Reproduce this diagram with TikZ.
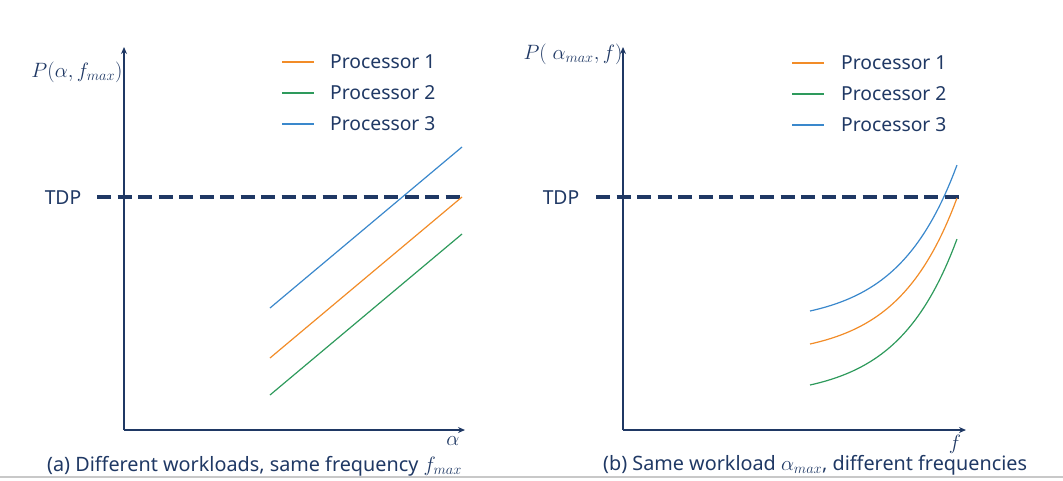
\documentclass[tikz,border=0pt]{standalone}
\usepackage{fontspec}
\setmainfont{Noto Sans}
\usetikzlibrary{arrows.meta}
\definecolor{navy}{HTML}{1F3864}
\definecolor{txt}{HTML}{1F3864}
\definecolor{porange}{HTML}{F28C28}
\definecolor{pgreen}{HTML}{2E9A5C}
\definecolor{pblue}{HTML}{3A88CC}
\definecolor{rule}{HTML}{C8C8C8}
\tikzset{
  axis/.style={draw=navy, line width=1.6pt, -{Stealth[length=7pt,width=6pt]}},
  tdp/.style={draw=navy, line width=3.2pt, dash pattern=on 14pt off 6.5pt},
  curve/.style={line width=1.2pt},
  lbl/.style={text=txt, font=\fontsize{19.3}{23}\selectfont, inner sep=0pt},
  captext/.style={text=txt, font=\fontsize{19.8}{24}\selectfont, inner sep=0pt, anchor=west},
  mlbl/.style={text=txt, font=\fontsize{22}{26}\selectfont, inner sep=0pt},
  leg/.style={lbl, anchor=west},
}
\begin{document}
\begin{tikzpicture}[x=1pt,y=-1pt]
\useasboundingbox (0,0) rectangle (1063,480);
% bottom rule
\draw[rule, line width=1.5pt] (0,477) -- (1063,477);

% ---------- left plot ----------
\coordinate (LO) at (124,430);
\coordinate (LY) at (124,47);
\coordinate (LX) at (465,430);
\draw[axis] (LO) -- (LY);
\draw[axis] (LO) -- (LX);
\node[mlbl] (lylab) at (77,72) {$P(\alpha,f_{max})$};
\node[mlbl] (lxlab) at (453,441) {$\alpha$};
\node[lbl] (ltdp) at (63,198) {TDP};
\coordinate (LT1) at (97,197);
\coordinate (LT2) at (462,197);
\draw[tdp] (LT1) -- (LT2);
\draw[curve, pblue] (270,308) -- (462,147);
\draw[curve, porange] (270,358) -- (462,197);
\draw[curve, pgreen] (270,395) -- (462,234);
% legend
\coordinate (la1) at (282,62); \coordinate (lb1) at (314,62);
\coordinate (la2) at (282,93); \coordinate (lb2) at (314,93);
\coordinate (la3) at (282,124); \coordinate (lb3) at (314,124);
\draw[curve, porange] (la1) -- (lb1);
\draw[curve, pgreen] (la2) -- (lb2);
\draw[curve, pblue] (la3) -- (lb3);
\node[leg] (lt1) at (330,62) {Processor 1};
\node[leg] (lt2) at (330,93) {Processor 2};
\node[leg] (lt3) at (330,124) {Processor 3};
\node[captext] (capa) at (47,466) {(a) Different workloads, same frequency {\fontsize{22.5}{26}\selectfont$f_{max}$}};

% ---------- right plot ----------
\coordinate (RO) at (623,430);
\coordinate (RY) at (623,47);
\coordinate (RX) at (966,430);
\draw[axis] (RO) -- (RY);
\draw[axis] (RO) -- (RX);
\node[mlbl] (rylab) at (573,54) {$P(\;\alpha_{max},f)$};
\node[mlbl] (rxlab) at (955,444) {$f$};
\node[lbl] (rtdp) at (561,198) {TDP};
\coordinate (RT1) at (596,197);
\coordinate (RT2) at (962,197);
\draw[tdp] (RT1) -- (RT2);
\draw[curve, pblue] plot[domain=0:1, samples=50] ({810+147*\x},{311-13.06*(exp(2.5*\x)-1)});
\draw[curve, porange] plot[domain=0:1, samples=50] ({810+147*\x},{344-13.06*(exp(2.5*\x)-1)});
\draw[curve, pgreen] plot[domain=0:1, samples=50] ({810+147*\x},{385-13.06*(exp(2.5*\x)-1)});
% legend
\coordinate (ra1) at (792,63); \coordinate (rb1) at (824,63);
\coordinate (ra2) at (792,94); \coordinate (rb2) at (824,94);
\coordinate (ra3) at (792,125); \coordinate (rb3) at (824,125);
\draw[curve, porange] (ra1) -- (rb1);
\draw[curve, pgreen] (ra2) -- (rb2);
\draw[curve, pblue] (ra3) -- (rb3);
\node[leg] (rt1) at (841,63) {Processor 1};
\node[leg] (rt2) at (841,94) {Processor 2};
\node[leg] (rt3) at (841,125) {Processor 3};
\node[captext] (capb) at (603,465) {(b) Same workload {\fontsize{22.5}{26}\selectfont$\alpha_{max}$}, different frequencies};
\end{tikzpicture}
\end{document}
